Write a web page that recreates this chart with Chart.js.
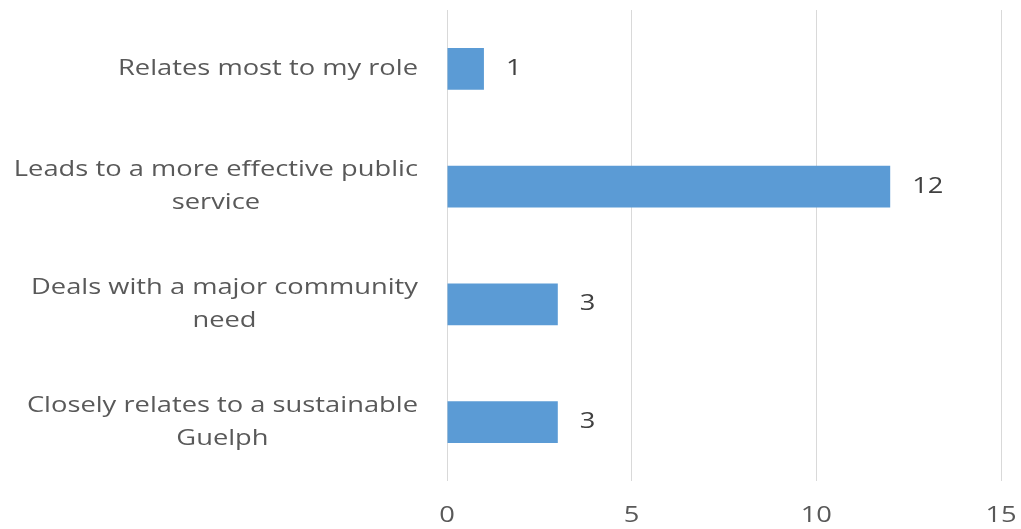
<!DOCTYPE html>
<html>
<head>
<meta charset="utf-8">
<script src="https://cdn.jsdelivr.net/npm/chart.js@4/dist/chart.umd.min.js"></script>
<style>
  html, body { margin: 0; padding: 0; background: #fff; }
  #wrap { width: 1021px; height: 529px; position: relative; }
</style>
</head>
<body>
<div id="wrap"><canvas id="chart"></canvas></div>
<script>
(function(){
    'use strict';

    // data
    var categories = [
        ['Relates most to my role'],
        ['Leads to a more effective public', 'service'],
        ['Deals with a major community', 'need'],
        ['Closely relates to a sustainable', 'Guelph']
    ];
    var counts = [1, 12, 3, 3];
    var xTicks = [0, 5, 10, 15];

    var FONT = '21px "Open Sans", "Noto Sans", sans-serif';
    var TEXT = '#595959';
    var SX = 1.3;   // text is drawn horizontally widened

    function wideText(ctx, txt, x, y, align) {
        ctx.save();
        ctx.translate(x, y);
        ctx.scale(SX, 1);
        ctx.textAlign = align;
        ctx.fillText(txt, 0, 0);
        ctx.restore();
    }

    // category labels: block right aligned to the axis, lines centred on each other
    var categoryLabels = {
        id: 'categoryLabels',
        afterDraw: function(chart) {
            var ctx = chart.ctx;
            var y = chart.scales.y;
            var right = chart.chartArea.left - 29;
            ctx.save();
            ctx.font = FONT;
            ctx.fillStyle = TEXT;
            ctx.textBaseline = 'middle';
            categories.forEach(function(lines, i) {
                var cy = y.getPixelForTick(i);
                var widest = 0;
                lines.forEach(function(l) { widest = Math.max(widest, ctx.measureText(l).width * SX); });
                var cx = right - widest / 2;
                var lh = 33;
                var top = cy - (lines.length - 1) * lh / 2;
                lines.forEach(function(l, k) { wideText(ctx, l, cx, top + k * lh, 'center'); });
            });
            ctx.restore();
        }
    };

    // x tick labels under the grid
    var xLabels = {
        id: 'xLabels',
        afterDraw: function(chart) {
            var ctx = chart.ctx;
            var x = chart.scales.x;
            ctx.save();
            ctx.font = FONT;
            ctx.fillStyle = TEXT;
            ctx.textBaseline = 'middle';
            xTicks.forEach(function(v) {
                wideText(ctx, String(v), x.getPixelForValue(v), chart.chartArea.bottom + 35, 'center');
            });
            ctx.restore();
        }
    };

    // value labels at the end of each bar
    var valueLabels = {
        id: 'valueLabels',
        afterDatasetsDraw: function(chart) {
            var ctx = chart.ctx;
            var meta = chart.getDatasetMeta(0);
            ctx.save();
            ctx.font = FONT;
            ctx.fillStyle = '#404040';
            ctx.textBaseline = 'middle';
            meta.data.forEach(function(bar, i) {
                wideText(ctx, String(counts[i]), bar.x + 22, bar.y, 'left');
            });
            ctx.restore();
        }
    };

    new Chart(document.getElementById('chart'), {
        type: 'bar',
        data: {
            labels: categories.map(function(c) { return c.join(' '); }),
            datasets: [{
                data: counts,
                backgroundColor: '#5b9bd5',
                borderWidth: 0,
                categoryPercentage: 1,
                barPercentage: 0.355
            }]
        },
        options: {
            indexAxis: 'y',
            responsive: true,
            maintainAspectRatio: false,
            animation: false,
            layout: { padding: { top: 10, right: 20, left: 0, bottom: 0 } },
            plugins: {
                legend: { display: false },
                tooltip: { enabled: false }
            },
            scales: {
                x: {
                    min: xTicks[0],
                    max: xTicks[xTicks.length - 1],
                    afterBuildTicks: function(s) {
                        s.ticks = xTicks.map(function(v) { return { value: v }; });
                    },
                    afterFit: function(s) { s.height = 48; },
                    grid: { color: '#d9d9d9', lineWidth: 1, drawTicks: false },
                    border: { display: false },
                    ticks: { display: false }
                },
                y: {
                    afterFit: function(s) { s.width = 447; },
                    grid: { display: false },
                    border: { display: false },
                    ticks: { display: false }
                }
            }
        },
        plugins: [categoryLabels, xLabels, valueLabels]
    });
})();
</script>
</body>
</html>
